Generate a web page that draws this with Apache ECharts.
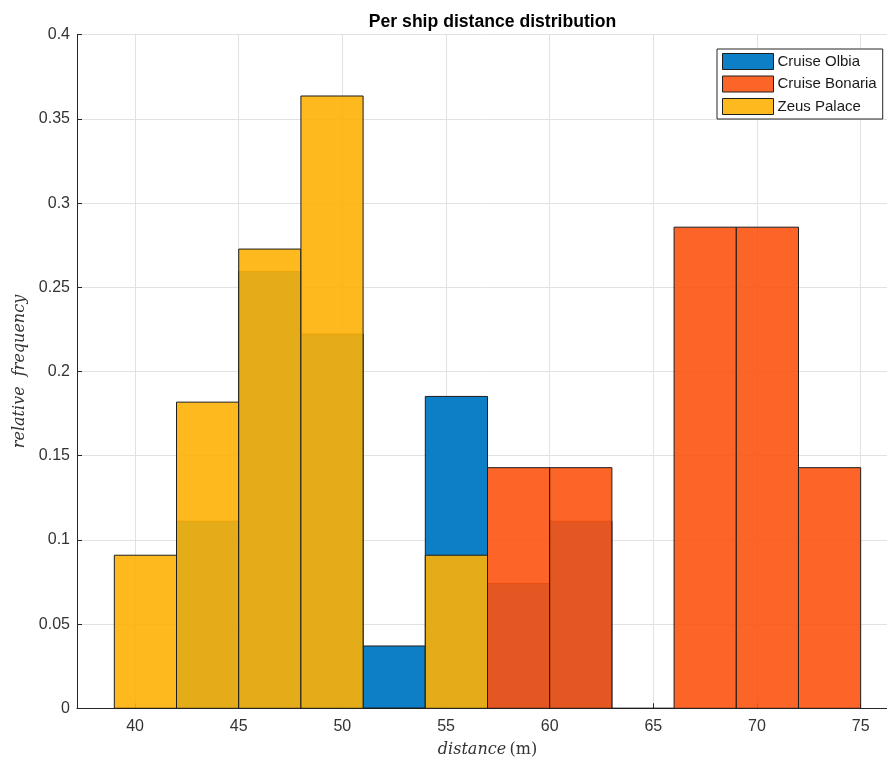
<!DOCTYPE html>
<html>
<head>
<meta charset="utf-8">
<script src="https://cdn.jsdelivr.net/npm/echarts@6/dist/echarts.min.js"></script>
<style>
html,body{margin:0;padding:0;background:#fff;overflow:hidden;width:887px;height:764px;}
#chart{width:898px;height:764px;}
</style>
</head>
<body>
<div id="chart"></div>
<script>
// ---- data ----
const binEdges = [39, 42, 45, 48, 51, 54, 57, 60, 63, 66, 69, 72, 75];
const olbia   = [0, 0.1111, 0.2593, 0.2222, 0.0370, 0.1852, 0.0741, 0.1111, null, null, null, null];
const bonaria = [null, null, null, null, null, null, 0.1429, 0.1429, 0, 0.2857, 0.2857, 0.1429];
const zeus    = [0.0909, 0.1818, 0.2727, 0.3636, 0, 0.0909, null, null, null, null, null, null];
const seriesNames = ['Cruise Olbia', 'Cruise Bonaria', 'Zeus Palace'];
const xTicks = [40, 45, 50, 55, 60, 65, 70, 75];

const colors = ['rgba(0,120,196,0.95)', 'rgba(253,83,16,0.9)', 'rgba(253,177,5,0.9)'];

function toData(vals) {
  const out = [];
  vals.forEach(function (v, i) {
    if (v !== null) out.push([binEdges[i], binEdges[i + 1], v]);
  });
  return out;
}

function makeRender(color) {
  return function (params, api) {
    const p0 = api.coord([api.value(0), 0]);
    const p1 = api.coord([api.value(1), api.value(2)]);
    return {
      type: 'rect',
      shape: { x: p0[0], y: p1[1], width: p1[0] - p0[0], height: p0[1] - p1[1] },
      style: { fill: color, stroke: '#1e1e1e', lineWidth: 1 }
    };
  };
}

const allVals = [olbia, bonaria, zeus];
const series = allVals.map(function (vals, k) {
  return {
    name: seriesNames[k],
    type: 'custom',
    renderItem: makeRender(colors[k]),
    itemStyle: { color: colors[k] },
    encode: { x: [0, 1], y: 2 },
    data: toData(vals),
    z: 2 + k
  };
});

const chart = echarts.init(document.getElementById('chart'), null, { renderer: 'canvas' });
chart.setOption({
  animation: false,
  backgroundColor: '#fff',
  title: {
    text: 'Per ship distance distribution',
    left: 487.5,
    textAlign: 'center',
    top: 8,
    textStyle: { fontFamily: 'Liberation Sans', fontSize: 17.6, fontWeight: 'bold', color: '#000' }
  },
  legend: {
    orient: 'vertical',
    left: 717,
    top: 49,
    padding: [4, 6, 4, 5],
    itemWidth: 51,
    itemHeight: 16,
    itemGap: 5.5,
    borderColor: '#262626',
    borderWidth: 1,
    backgroundColor: '#fff',
    icon: 'rect',
    data: seriesNames.map(function (n, k) {
      return { name: n, itemStyle: { color: colors[k], borderColor: '#1e1e1e', borderWidth: 1 } };
    }),
    textStyle: { fontFamily: 'Liberation Sans', fontSize: 15, color: '#1a1a1a', padding: [0, 0, 0, -1] }
  },
  grid: { left: 77, top: 34.7, width: 821, height: 673.6, containLabel: false },
  xAxis: {
    type: 'value',
    min: 37.2,
    max: 76.8,
    axisLine: { show: true, onZero: false, lineStyle: { color: '#262626', width: 1 } },
    axisTick: { show: true, inside: true, length: 5, customValues: xTicks, lineStyle: { color: '#262626' } },
    axisLabel: { customValues: xTicks, fontFamily: 'Liberation Sans', fontSize: 16, color: '#333', margin: 10 },
    splitLine: { show: true, lineStyle: { color: '#e2e2e2', width: 1 } },
    name: '{i|distance} {r|(m)}',
    nameLocation: 'middle',
    nameGap: 34,
    nameTextStyle: {
      rich: {
        i: { fontFamily: 'DejaVu Serif', fontStyle: 'italic', fontSize: 16, color: '#333' },
        r: { fontFamily: 'DejaVu Serif', fontSize: 16, color: '#333' }
      }
    }
  },
  yAxis: {
    type: 'value',
    min: 0,
    max: 0.4,
    interval: 0.05,
    axisLine: { show: true, lineStyle: { color: '#262626', width: 1 } },
    axisTick: { show: true, inside: true, length: 5, lineStyle: { color: '#262626' } },
    axisLabel: { fontFamily: 'Liberation Sans', fontSize: 16, color: '#333', margin: 7 },
    splitLine: { show: true, lineStyle: { color: '#e2e2e2', width: 1 } },
    name: 'relative  frequency',
    nameLocation: 'middle',
    nameGap: 40,
    nameTextStyle: { fontFamily: 'DejaVu Serif', fontStyle: 'italic', fontSize: 16, color: '#333' }
  },
  series: series
});
</script>
</body>
</html>
